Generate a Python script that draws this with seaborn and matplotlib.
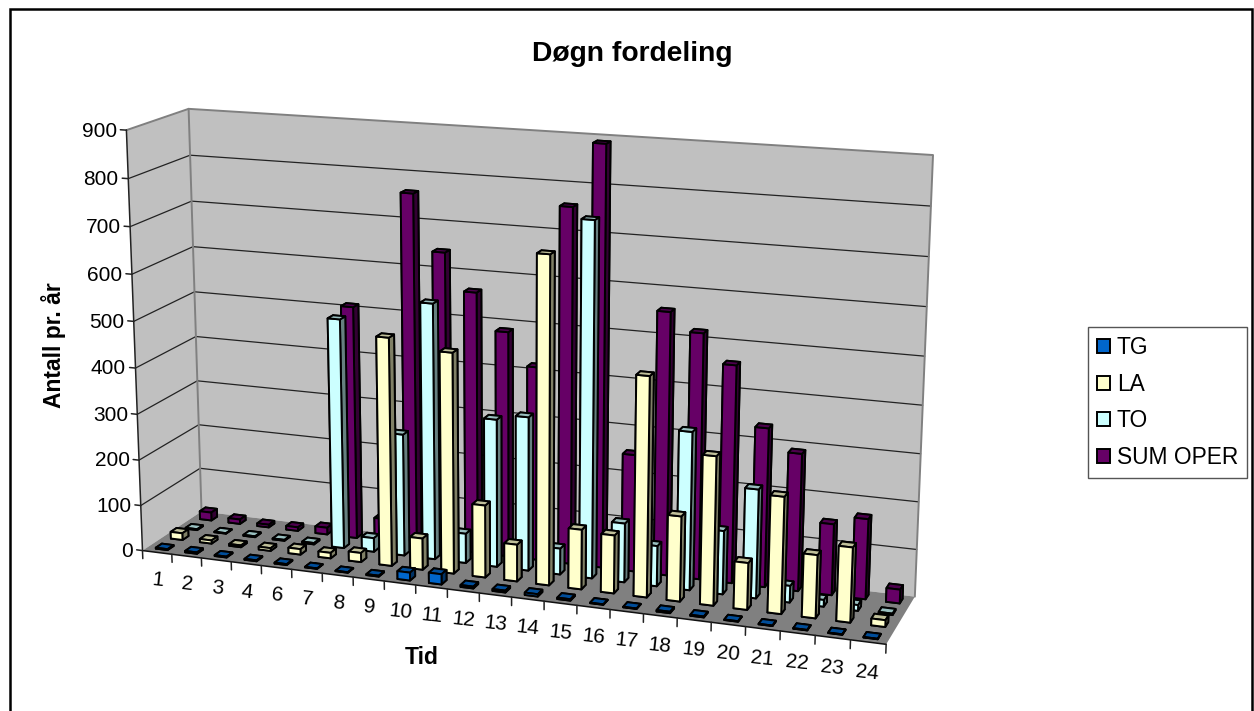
# Døgn fordeling, 3D column chart
import numpy as np
import seaborn as sns
import matplotlib
matplotlib.use('Agg')
import matplotlib.pyplot as plt
from matplotlib.patches import Patch, Rectangle
from mpl_toolkits.mplot3d import proj3d
from mpl_toolkits.mplot3d.art3d import Poly3DCollection

sns.set_theme(style='white')
plt.rcParams['font.family'] = ['Liberation Sans', 'DejaVu Sans']

tid = ['1', '2', '3', '4', '6', '7', '8', '9', '10', '11', '12', '13', '14', '15', '16', '17', '18', '19', '20', '21', '22', '23', '24']
tg = [2, 3, 2, 2, 2, 1, 1, 2, 17, 22, 4, 4, 5, 3, 1, 1, 3, 2, 1, 1, 1, 1, 1]
la = [15, 7, 4, 6, 12, 12, 20, 490, 68, 471, 155, 79, 690, 127, 123, 461, 179, 311, 98, 243, 131, 155, 14]
to = [2, 1, 2, 2, 3, 500, 30, 265, 551, 64, 318, 330, 56, 750, 126, 86, 334, 134, 229, 35, 14, 12, 3]
sum_oper = [18, 10, 6, 8, 15, 510, 50, 762, 643, 564, 486, 417, 758, 891, 251, 558, 520, 460, 336, 290, 150, 169, 29]
series = ['TG', 'LA', 'TO', 'SUM OPER']
verdier = [tg, la, to, sum_oper]
yticks = [0, 100, 200, 300, 400, 500, 600, 700, 800, 900]
farger = sns.color_palette(['#0066CC', '#FFFFCC', '#CCFFFF', '#660066'])

W, H = 1254, 711
nx, ny, nz = len(tid), len(series), 900

fig = plt.figure(figsize=(W / 100, H / 100), dpi=100, facecolor='white')
ax = fig.add_axes([0, 0, 1, 1], projection='3d')
ax.apply_aspect = lambda position=None: None
ax.set_axis_off()
ax.set_xticks([])
ax.set_yticks([])
ax.set_zticks([])
ax.computed_zorder = False
ax.patch.set_visible(False)

# camera fitted so the plot box lands on the same place as the Excel one
box = [((0, 0, 0), (143, 551)), ((0, 0, 1), (126, 130)), ((0, 1, 0), (201, 511)), ((0, 1, 1), (189, 109)),
       ((1, 1, 0), (915, 597)), ((1, 1, 1), (933, 155)), ((1, 0, 0), (886, 644))]
A, b = [], []
for (x, y, z), (px, py) in box:
    u, v = px / W, 1 - py / H
    A.append([x, y, z, 1, 0, 0, 0, 0, -u * x, -u * y, -u * z])
    A.append([0, 0, 0, 0, x, y, z, 1, -v * x, -v * y, -v * z])
    b += [u, v]
p = np.linalg.lstsq(np.array(A), np.array(b), rcond=None)[0]
pu, pv, pw = p[:4], p[4:8], np.append(p[8:], 1)
vl = ax.viewLim
# depth has to stay negative or Line3D masks the point
M = np.array([vl.width * pu + vl.x0 * pw, vl.height * pv + vl.y0 * pw, [-1, 1, -0.5, -3], pw])
M = M @ np.diag([1 / nx, 1 / ny, 1 / nz, 1])
ax.get_proj = lambda: M


def tekst(x, y, z, s, **kw):
    # label at a 3D data position
    x2, y2, _ = proj3d.proj_transform(x, y, z, M)
    ax.text2D(x2, y2, s, transform=ax.transData, color='black', fontsize=15, zorder=6, **kw)


vegg = '#C0C0C0'
ax.add_collection3d(Poly3DCollection([[(0, ny, 0), (nx, ny, 0), (nx, ny, nz), (0, ny, nz)]], facecolors=vegg, edgecolors='none', zorder=0))
ax.add_collection3d(Poly3DCollection([[(0, 0, 0), (0, ny, 0), (0, ny, nz), (0, 0, nz)]], facecolors=vegg, edgecolors='none', zorder=0))
ax.add_collection3d(Poly3DCollection([[(0, 0, 0), (nx, 0, 0), (nx, ny, 0), (0, ny, 0)]], facecolors='#808080', edgecolors='none', zorder=0.5))

for t in yticks[1:-1]:
    ax.plot([0, 0, nx], [0, ny, ny], [t, t, t], color='#222222', lw=0.9, zorder=5)
# wall edges
ax.plot([0, 0, nx, nx], [0, ny, ny, ny], [nz, nz, nz, 0], color='#808080', lw=1.4, zorder=5)
ax.plot([0, 0], [ny, ny], [0, nz], color='#808080', lw=1.4, zorder=5)

# axis lines, ticks, tick labels
ax.plot([0, 0], [0, 0], [0, nz], color='#222222', lw=1.1, zorder=6)
ax.plot([0, nx], [0, 0], [0, 0], color='#111111', lw=1.1, zorder=6)
for t in yticks:
    ax.plot([-0.2, 0], [0, 0], [t, t], color='#222222', lw=1.1, zorder=6)
    tekst(-0.32, 0, t - 4, str(t), ha='right', va='center')
for i in range(nx + 1):
    ax.plot([i, i], [0, 0], [0, -18], color='#222222', lw=1.1, zorder=6)
for i, lab in enumerate(tid):
    tekst(i + 0.5, 0, -62, lab, ha='center', va='center', rotation=-6)

# columns, back row first, left to right
bredde = 0.4
orden = 10
for s in range(ny - 1, -1, -1):
    farge = np.array(farger[s])
    flater = [farge, farge * 0.75, farge, farge, farge * 0.5, farge * 0.5]
    for i in range(nx):
        ax.bar3d(i + 0.3, s + 0.3, 0, bredde, bredde, verdier[s][i], color=flater, shade=False,
                 edgecolor='black', linewidth=1.4, zorder=orden)
        orden += 1

fig.text(632 / W, 1 - 54 / H, 'Døgn fordeling', ha='center', va='center', fontsize=20.3, fontweight='bold', color='black')
fig.text(53 / W, 1 - 345 / H, 'Antall pr. år', ha='center', va='center', rotation=90, fontsize=16.5, fontweight='bold', color='black')
fig.text(422 / W, 1 - 658 / H, 'Tid', ha='center', va='center', fontsize=16.5, fontweight='bold', color='black')

handles = [Patch(facecolor=farger[i], edgecolor='black', linewidth=1.4, label=series[i]) for i in range(ny)]
leg = fig.legend(handles=handles, loc='upper left', bbox_to_anchor=(1088 / W, 1 - 327 / H), fontsize=16.4,
                 labelcolor='black', frameon=True, fancybox=False, framealpha=1, edgecolor='#555555', borderaxespad=0,
                 handlelength=0.57, handleheight=0.57, handletextpad=0.3, labelspacing=0.6, borderpad=0.4)
leg.get_frame().set_linewidth(1.0)

# chart frame, its lower edge falls outside the picture
fig.add_artist(Rectangle((10 / W, 1 - 730 / H), 1241.5 / W, 721 / H, transform=fig.transFigure, fill=False, edgecolor='black', lw=1.8))

fig.savefig('out.png', dpi=100)
